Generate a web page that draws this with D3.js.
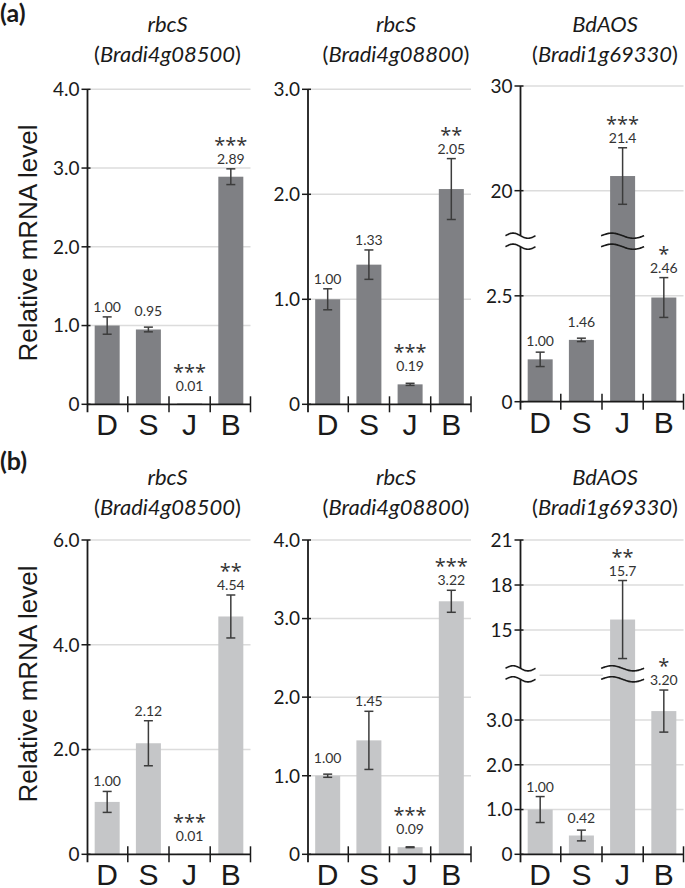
<!DOCTYPE html>
<html><head><meta charset="utf-8">
<script src="https://cdn.jsdelivr.net/npm/d3@7"></script>
<style>body{margin:0;background:#fff}svg{display:block}</style>
</head><body>
<svg id="c" width="685" height="888"></svg>
<script>
// ---------------- data ----------------
const categories = ["D", "S", "J", "B"];
const geneNames = ["rbcS", "rbcS", "BdAOS"];
const geneIds = ["Bradi4g08500", "Bradi4g08800", "Bradi1g69330"];
const panelLetters = ["(a)", "(b)"];
const yAxisTitle = "Relative mRNA level";

// panel (a)
const valuesA1 = [1.00, 0.95, 0.01, 2.89];
const errorsA1 = [0.11, 0.03, 0.00, 0.10];
const starsA1 = ["", "", "***", "***"];
const valuesA2 = [1.00, 1.33, 0.19, 2.05];
const errorsA2 = [0.10, 0.14, 0.01, 0.29];
const starsA2 = ["", "", "***", "**"];
const valuesA3 = [1.00, 1.46, 21.4, 2.46];
const errorsA3 = [0.17, 0.04, 2.7, 0.47];
const starsA3 = ["", "", "***", "*"];

// panel (b)
const valuesB1 = [1.00, 2.12, 0.01, 4.54];
const errorsB1 = [0.20, 0.43, 0.00, 0.41];
const starsB1 = ["", "", "***", "**"];
const valuesB2 = [1.00, 1.45, 0.09, 3.22];
const errorsB2 = [0.02, 0.37, 0.005, 0.14];
const starsB2 = ["", "", "***", "***"];
const valuesB3 = [1.00, 0.42, 15.7, 3.20];
const errorsB3 = [0.29, 0.12, 2.6, 0.47];
const starsB3 = ["", "", "**", "*"];

// tick values
const ticksA1 = [0, 1, 2, 3, 4];
const ticksA2 = [0, 1, 2, 3];
const ticksA3 = [0, 2.5, 20, 30];
const ticksB1 = [0, 2, 4, 6];
const ticksB2 = [0, 1, 2, 3, 4];
const ticksB3 = [0, 1, 2, 3, 15, 18, 21];

// value domains (broken axes: lower segment, upper segment)
const domainA1 = [0, 4];
const domainA2 = [0, 3];
const domainA3 = [[0, 3.66], [15.7, 30]];
const domainB1 = [0, 6];
const domainB2 = [0, 4];
const domainB3 = [[0, 3.91], [12.45, 21]];
const extraGridB3 = [4.0];

// ---------------- layout ----------------
const plotX = [87.5, 308, 520.5];
const plotW = 163;
const titleX = [167.5, 396, 605];
const rows = [
  { color: "#7f8084", letterY: 22, geneY: 32, idY: 62, axisLabelY: 243, plots: [
    { v: valuesA1, e: errorsA1, s: starsA1, t: ticksA1, d: domainA1, r: [404.3, 89.3] },
    { v: valuesA2, e: errorsA2, s: starsA2, t: ticksA2, d: domainA2, r: [404.3, 89.3] },
    { v: valuesA3, e: errorsA3, s: starsA3, t: ticksA3, d: domainA3, r: [[401.7, 246.7], [235.7, 86]] }
  ]},
  { color: "#c5c6c8", letterY: 470, geneY: 485, idY: 515, axisLabelY: 684, plots: [
    { v: valuesB1, e: errorsB1, s: starsB1, t: ticksB1, d: domainB1, r: [854.3, 540] },
    { v: valuesB2, e: errorsB2, s: starsB2, t: ticksB2, d: domainB2, r: [854.3, 540] },
    { v: valuesB3, e: errorsB3, s: starsB3, t: ticksB3, d: domainB3, r: [[854.3, 679.3], [668.3, 540]], g: extraGridB3 }
  ]}
];

const svg = d3.select("#c");
const INK = "#1a1a1a";
const fmtVal = v => v >= 10 ? d3.format(".1f")(v) : d3.format(".2f")(v);
const fmtTick = v => v === 0 ? "0" : (v >= 10 ? d3.format("d")(v) : d3.format(".1f")(v));

function wavePath(cx, y, hw) {
  const pts = d3.range(0, 41).map(i => {
    const u = i / 40;
    return [cx - hw + u * 2 * hw, y - 2.6 * Math.sin(u * 2 * Math.PI)];
  });
  return d3.line().curve(d3.curveBasis)(pts);
}

rows.forEach((row, ri) => {
  svg.append("text").attr("x", 0).attr("y", row.letterY)
    .attr("font-family", "Lato, sans-serif").attr("font-weight", 700)
    .attr("font-size", 25).attr("fill", INK).text(panelLetters[ri]);
  svg.append("text")
    .attr("transform", `translate(36.5,${row.axisLabelY}) rotate(-90)`)
    .attr("text-anchor", "middle")
    .attr("font-family", "'Liberation Sans', Arial, sans-serif")
    .attr("font-size", 26).attr("fill", INK).text(yAxisTitle);

  row.plots.forEach((p, pi) => {
    const g = svg.append("g");
    const x0 = plotX[pi], x1 = x0 + plotW;
    const x = d3.scaleBand().domain(categories).range([x0, x1]).paddingInner(0.385).paddingOuter(0.17);
    const broken = Array.isArray(p.d[0]);
    let yFn, base, top, lower, upper;
    if (broken) {
      lower = d3.scaleLinear().domain(p.d[0]).range(p.r[0]);
      upper = d3.scaleLinear().domain(p.d[1]).range(p.r[1]);
      yFn = v => v <= p.d[0][1] ? lower(v) : upper(v);
      base = p.r[0][0]; top = p.r[1][1];
    } else {
      const ys = d3.scaleLinear().domain(p.d).range(p.r);
      yFn = ys; base = p.r[0]; top = p.r[1];
    }

    const tx = titleX[pi];
    g.append("text").attr("x", tx).attr("y", row.geneY).attr("text-anchor", "middle")
      .attr("font-family", "Lato, sans-serif").attr("font-style", "italic")
      .attr("font-size", 22).attr("fill", INK).text(geneNames[pi]);
    const idt = g.append("text").attr("x", tx).attr("y", row.idY).attr("text-anchor", "middle")
      .attr("font-family", "Lato, sans-serif").attr("font-size", 22).attr("fill", INK);
    idt.append("tspan").text("(");
    idt.append("tspan").attr("font-style", "italic").text(geneIds[pi]);
    idt.append("tspan").text(")");

    p.t.filter(t => t !== 0).forEach(t => {
      g.append("line").attr("x1", x0).attr("x2", x1)
        .attr("y1", yFn(t)).attr("y2", yFn(t))
        .attr("stroke", "#dcdcdc").attr("stroke-width", 1.5);
    });
    if (p.g) {
      p.g.forEach(t => {
        g.append("line").attr("x1", x0 + 19).attr("x2", x("J") - 7)
          .attr("y1", lower(t)).attr("y2", lower(t))
          .attr("stroke", "#dcdcdc").attr("stroke-width", 1.5);
      });
    }

    const bw = 25;
    categories.forEach((c, i) => {
      const cx = x(c) + x.bandwidth() / 2;
      const v = p.v[i];
      g.append("rect").attr("x", cx - bw / 2).attr("width", bw)
        .attr("y", yFn(v)).attr("height", Math.max(0.8, base - yFn(v)))
        .attr("fill", row.color);
    });

    categories.forEach((c, i) => {
      const cx = x(c) + x.bandwidth() / 2;
      const v = p.v[i], e = p.e[i];
      if (e <= 0) return;
      const yt = yFn(v + e), yb = yFn(v - e);
      const col = "#3c3c3c";
      g.append("line").attr("x1", cx).attr("x2", cx).attr("y1", yt).attr("y2", yb)
        .attr("stroke", col).attr("stroke-width", 1.5);
      [yt, yb].forEach(yy => g.append("line").attr("x1", cx - 4.5).attr("x2", cx + 4.5)
        .attr("y1", yy).attr("y2", yy).attr("stroke", col).attr("stroke-width", 1.5));
    });

    categories.forEach((c, i) => {
      const cx = x(c) + x.bandwidth() / 2;
      const v = p.v[i], e = p.e[i];
      const ly = Math.min(yFn(v + e), yFn(v) - 8) - 5;
      g.append("text").attr("x", cx).attr("y", ly).attr("text-anchor", "middle")
        .attr("font-family", "Lato, sans-serif").attr("font-size", 14)
        .attr("fill", "#333").text(fmtVal(v));
      if (p.s[i]) {
        g.append("text").attr("x", cx).attr("y", ly - 12).attr("text-anchor", "middle")
          .attr("font-family", "'Open Sans', sans-serif").attr("font-size", 20)
          .attr("fill", "#333").text(p.s[i]);
      }
    });

    const segs = broken ? [[top, p.r[1][0]], [p.r[0][1], base + 8]] : [[top, base + 8]];
    segs.forEach(s => g.append("line").attr("x1", x0).attr("x2", x0).attr("y1", s[0]).attr("y2", s[1])
      .attr("stroke", INK).attr("stroke-width", 1.8));
    p.t.forEach(t => {
      const yy = yFn(t);
      g.append("line").attr("x1", x0 - 6).attr("x2", x0 + 3).attr("y1", yy).attr("y2", yy)
        .attr("stroke", INK).attr("stroke-width", 1.5);
      g.append("text").attr("x", x0 - 8).attr("y", yy).attr("dy", "0.36em")
        .attr("text-anchor", "end").attr("font-family", "Lato, sans-serif")
        .attr("font-size", 19).attr("fill", INK).text(fmtTick(t));
    });

    g.append("line").attr("x1", x0).attr("x2", x1).attr("y1", base).attr("y2", base)
      .attr("stroke", INK).attr("stroke-width", 1.8);
    const bounds = categories.map(c => x(c) - x.step() * x.paddingInner() / 2).slice(1).concat([x1]);
    bounds.forEach(bx => g.append("line").attr("x1", bx).attr("x2", bx)
      .attr("y1", base - 8).attr("y2", base + 8).attr("stroke", INK).attr("stroke-width", 1.5));

    categories.forEach(c => {
      g.append("text").attr("x", x(c) + x.bandwidth() / 2).attr("y", base + 31)
        .attr("text-anchor", "middle").attr("font-family", "'Liberation Sans', Arial, sans-serif")
        .attr("font-size", 30).attr("fill", INK).text(c);
    });

    if (broken) {
      const jx = x("J") + x.bandwidth() / 2;
      [p.r[1][0], p.r[0][1]].forEach(yy => {
        g.append("path").attr("d", wavePath(x0, yy, 15)).attr("fill", "none")
          .attr("stroke", INK).attr("stroke-width", 1.6);
        g.append("path").attr("d", wavePath(jx, yy, 21.5)).attr("fill", "none")
          .attr("stroke", INK).attr("stroke-width", 1.6);
      });
    }
  });
});
</script>
</body></html>
